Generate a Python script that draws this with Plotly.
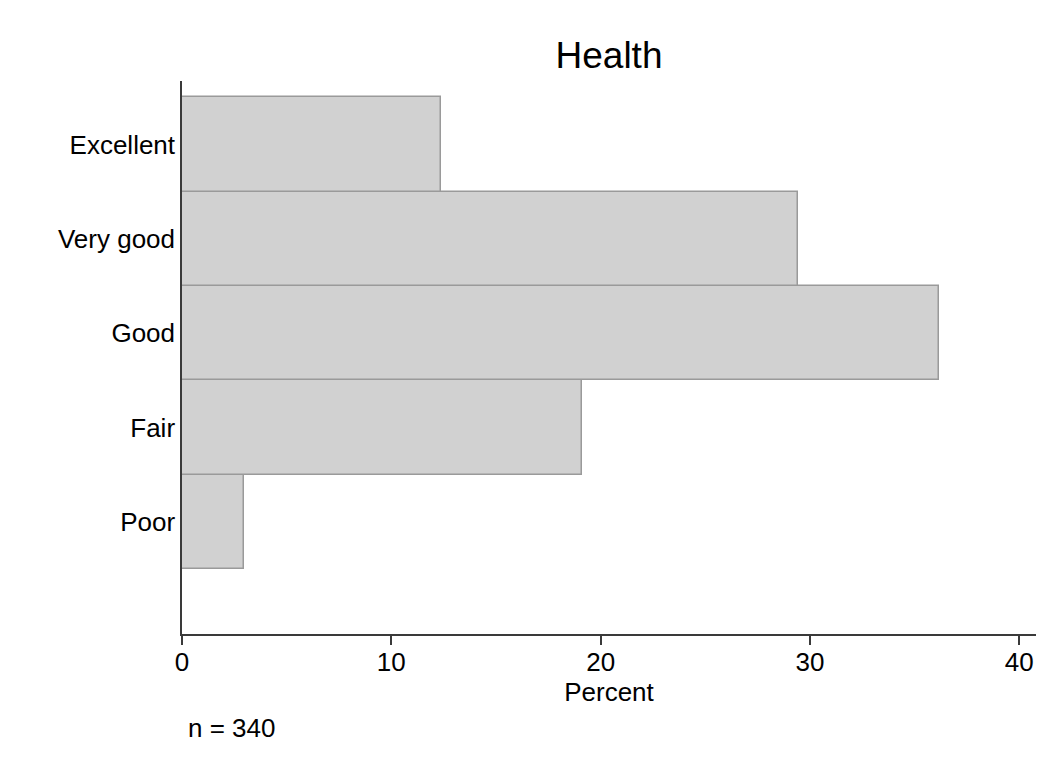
import plotly.graph_objects as go

categories = ["Poor", "Fair", "Good", "Very good", "Excellent"]
percent = [2.94, 19.12, 36.18, 29.41, 12.35]
x_ticks = [0, 10, 20, 30, 40]
title_text = "Health"
x_title = "Percent"
note_text = "n = 340"

FONT = "Liberation Sans, Arial, Helvetica, sans-serif"

# page body has an 8px margin; compensate
W, H = 1035, 753
L, R, T, B = 174, 7, 73, 127
PW = W - L - R
PH = H - T - B

fig = go.Figure()
fig.add_trace(go.Bar(
    x=percent,
    y=categories,
    orientation="h",
    marker=dict(color="#d1d1d1", line=dict(color="#9a9a9a", width=1.5)),
    hoverinfo="x+y",
))

fig.update_layout(
    width=W,
    height=H,
    paper_bgcolor="white",
    plot_bgcolor="white",
    margin=dict(l=L, r=R, t=T, b=B),
    bargap=0,
    showlegend=False,
    font=dict(family=FONT, color="black", size=26),
    title=dict(
        text=title_text,
        x=(L + W - R) / 2 / W,
        xanchor="center",
        y=1 - 47 / H,
        yanchor="middle",
        font=dict(size=37, family=FONT, color="black"),
    ),
    xaxis=dict(
        range=[0, 40.8],
        tickvals=x_ticks,
        ticktext=[str(v) for v in x_ticks],
        showgrid=False,
        zeroline=False,
        showline=True,
        linecolor="#3a3a3a",
        linewidth=1.5,
        ticks="outside",
        ticklen=9,
        tickwidth=1.5,
        tickcolor="#3a3a3a",
        ticklabelstandoff=-5,
        tickfont=dict(size=26, family=FONT, color="black"),
        title=dict(text=x_title, font=dict(size=26, family=FONT, color="black"), standoff=0),
    ),
    yaxis=dict(
        type="category",
        categoryorder="array",
        categoryarray=categories,
        range=[-1.186, 4.673],
        showgrid=False,
        zeroline=False,
        showline=True,
        linecolor="#3a3a3a",
        linewidth=1.5,
        ticks="",
        ticklabelstandoff=0,
        tickfont=dict(size=26, family=FONT, color="black"),
    ),
    annotations=[
        dict(
            text=note_text,
            xref="paper", yref="paper",
            x=(186 - 182) / PW, y=(634 - 728) / PH,
            xanchor="left", yanchor="middle",
            showarrow=False,
            font=dict(size=26, family=FONT, color="black"),
        )
    ],
)

fig.write_html("out.html")
